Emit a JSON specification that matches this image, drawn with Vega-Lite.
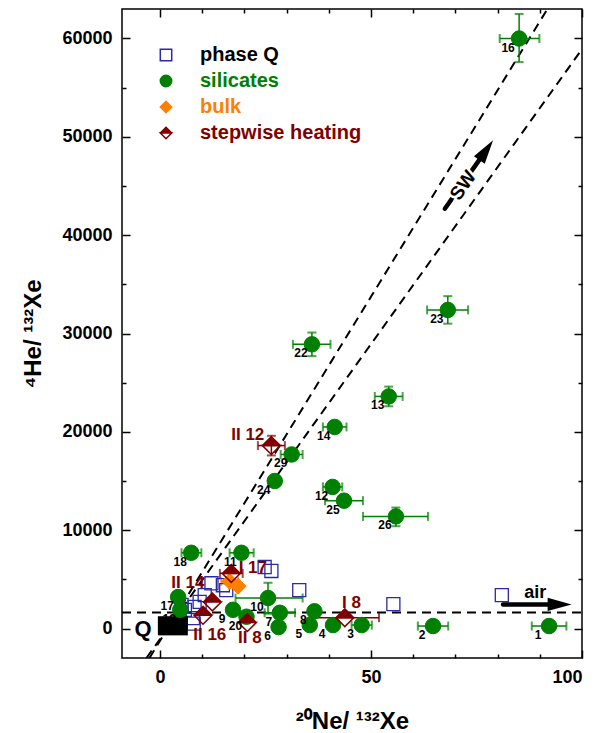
{
  "$schema": "https://vega.github.io/schema/vega-lite/v6.json",
  "width": 460,
  "height": 649,
  "autosize": {"type": "none"},
  "padding": {"left": 122, "top": 9, "right": 24, "bottom": 75},
  "background": "white",
  "config": {
    "view": {"stroke": "black", "strokeWidth": 1.5},
    "font": "Liberation Sans",
    "axis": {
      "grid": false, "domain": false,
      "labelFont": "Liberation Sans", "labelFontWeight": "bold", "labelFontSize": 18, "labelColor": "black",
      "tickColor": "black", "tickWidth": 1.5,
      "titleFont": "Liberation Sans", "titleFontWeight": "bold", "titleFontSize": 24, "titleColor": "black"
    },
    "legend": {
      "orient": "none", "legendX": 34, "legendY": 36, "padding": 0, "title": null,
      "labelFont": "Liberation Sans", "labelFontWeight": "bold", "labelFontSize": 20, "labelLimit": 400,
      "symbolSize": 130, "symbolStrokeWidth": 1.5, "symbolOpacity": 1, "labelOffset": 24, "rowPadding": 6
    },
    "text": {"font": "Liberation Sans", "fontWeight": "bold"}
  },
  "datasets": {
    "pts": [
      {"g": "silicates", "n": "16", "x": 85.1, "y": 60000, "xlo": 80.5, "xhi": 89.9, "ylo": 57600, "yhi": 62500},
      {"g": "silicates", "n": "23", "x": 68.2, "y": 32400, "xlo": 63.3, "xhi": 73.0, "ylo": 31000, "yhi": 33800},
      {"g": "silicates", "n": "22", "x": 36.0, "y": 28900, "xlo": 31.5, "xhi": 40.4, "ylo": 27700, "yhi": 30100},
      {"g": "silicates", "n": "13", "x": 54.2, "y": 23600, "xlo": 50.9, "xhi": 57.5, "ylo": 22600, "yhi": 24600},
      {"g": "silicates", "n": "14", "x": 41.4, "y": 20500, "xlo": 38.6, "xhi": 44.2},
      {"g": "silicates", "n": "29", "x": 31.2, "y": 17700, "xlo": 28.6, "xhi": 33.8},
      {"g": "silicates", "n": "24", "x": 27.2, "y": 15000},
      {"g": "silicates", "n": "12", "x": 40.9, "y": 14400, "xlo": 38.6, "xhi": 43.2},
      {"g": "silicates", "n": "25", "x": 43.6, "y": 13000, "xlo": 39.1, "xhi": 48.1},
      {"g": "silicates", "n": "26", "x": 55.9, "y": 11400, "xlo": 48.1, "xhi": 63.5, "ylo": 10400, "yhi": 12300},
      {"g": "silicates", "n": "18", "x": 7.4, "y": 7700, "xlo": 5.1, "xhi": 9.8},
      {"g": "silicates", "n": "11", "x": 19.3, "y": 7700, "xlo": 16.5, "xhi": 22.2},
      {"g": "silicates", "n": "10", "x": 25.6, "y": 3100, "xlo": 17.9, "xhi": 33.8, "ylo": 1500, "yhi": 4650},
      {"g": "silicates", "n": "17", "x": 4.3, "y": 3200},
      {"g": "silicates", "n": "19", "x": 4.8, "y": 1900},
      {"g": "silicates", "n": "9", "x": 17.3, "y": 1900},
      {"g": "silicates", "n": "20", "x": 20.5, "y": 1200},
      {"g": "silicates", "n": "7", "x": 28.4, "y": 1600, "xlo": 24.8, "xhi": 32.0},
      {"g": "silicates", "n": "6", "x": 28.1, "y": 150},
      {"g": "silicates", "n": "5", "x": 35.5, "y": 350},
      {"g": "silicates", "n": "8", "x": 36.6, "y": 1750},
      {"g": "silicates", "n": "4", "x": 41.0, "y": 350},
      {"g": "silicates", "n": "3", "x": 47.8, "y": 350, "xlo": 45.4, "xhi": 50.2},
      {"g": "silicates", "n": "2", "x": 64.7, "y": 250, "xlo": 61.1, "xhi": 68.3},
      {"g": "silicates", "n": "1", "x": 92.2, "y": 250, "xlo": 88.1, "xhi": 96.3},
      {"g": "phase Q", "x": 81.0, "y": 3400},
      {"g": "phase Q", "x": 55.3, "y": 2480},
      {"g": "phase Q", "x": 33.0, "y": 3900},
      {"g": "phase Q", "x": 24.8, "y": 6250},
      {"g": "phase Q", "x": 26.4, "y": 5850},
      {"g": "phase Q", "x": 12.2, "y": 4600},
      {"g": "phase Q", "x": 10.6, "y": 3400},
      {"g": "phase Q", "x": 9.4, "y": 2700},
      {"g": "phase Q", "x": 8.2, "y": 2200},
      {"g": "phase Q", "x": 7.8, "y": 1050},
      {"g": "phase Q", "x": 5.9, "y": 1900},
      {"g": "phase Q", "x": 14.9, "y": 4400},
      {"g": "phase Q", "x": 15.7, "y": 3900},
      {"g": "phase Q", "x": 5.1, "y": 2400},
      {"g": "phase Q", "x": 8.0, "y": 500},
      {"g": "bulk", "x": 16.5, "y": 4800, "xlo": 14.5, "xhi": 18.5},
      {"g": "bulk", "x": 18.5, "y": 4300},
      {"g": "stepwise heating", "x": 26.4, "y": 18600, "xlo": 23.2, "xhi": 29.6, "ylo": 17600, "yhi": 19600},
      {"g": "stepwise heating", "x": 16.9, "y": 5600, "xlo": 14.2, "xhi": 19.6},
      {"g": "stepwise heating", "x": 12.4, "y": 2700},
      {"g": "stepwise heating", "x": 10.2, "y": 1350},
      {"g": "stepwise heating", "x": 20.7, "y": 600},
      {"g": "stepwise heating", "x": 43.8, "y": 1100, "xlo": 35.9, "xhi": 51.9}
    ],
    "guides": [
      {"id": "air", "x": -9, "y": 1630},
      {"id": "air", "x": 100, "y": 1630},
      {"id": "sw1", "x": -2.49, "y": -3000},
      {"id": "sw1", "x": 91.8, "y": 63000},
      {"id": "sw2", "x": -3.2, "y": -3000},
      {"id": "sw2", "x": 100, "y": 58920}
    ],
    "qbox": [{"x": -0.5, "x2": 6.6, "y": -700, "y2": 1250}],
    "arrows": [
      {"a": "air", "x": 81.3, "y": 2450, "x2": 94.7, "y2": 2450},
      {"a": "sw", "x": 67.5, "y": 42690, "x2": 77.3, "y2": 48650}
    ],
    "ann": [
      {"k": "step", "t": "II 12", "x": 20.8, "y": 19630},
      {"k": "step", "t": "I 17", "x": 22.0, "y": 6150},
      {"k": "step", "t": "II 14", "x": 6.6, "y": 4620},
      {"k": "step", "t": "II 16", "x": 11.8, "y": -680},
      {"k": "step", "t": "II 8", "x": 21.3, "y": -990},
      {"k": "step", "t": "I 8", "x": 45.4, "y": 2610},
      {"k": "air", "t": "air", "x": 88.9, "y": 3600},
      {"k": "q", "t": "Q", "x": -4.0, "y": 0},
      {"k": "sw", "t": "SW", "x": 71.8, "y": 45060}
    ]
  },
  "resolve": {"axis": {"x": "independent", "y": "independent"}},
  "layer": [
    {
      "data": {"name": "guides"},
      "mark": {"type": "line", "strokeDash": [9, 6], "strokeWidth": 2, "color": "black", "clip": true},
      "encoding": {
        "x": {"field": "x", "type": "quantitative",
          "scale": {"domain": [-9, 100], "nice": false, "zero": false},
          "axis": {"orient": "bottom", "values": [0, 50, 100], "tickSize": -8, "labelPadding": 18,
            "title": "²⁰Ne/ ¹³²Xe", "titleY": 70, "titleBaseline": "alphabetic"}},
        "y": {"field": "y", "type": "quantitative",
          "scale": {"domain": [-3000, 63000], "nice": false, "zero": false},
          "axis": {"orient": "left", "values": [0, 10000, 20000, 30000, 40000, 50000, 60000], "format": "d",
            "tickSize": -8, "labelPadding": 18,
            "title": "⁴He/ ¹³²Xe", "titleX": -82, "titleBaseline": "alphabetic"}},
        "detail": {"field": "id"}
      }
    },
    {
      "data": {"name": "pts"},
      "transform": [{"filter": "isValid(datum.xlo)"}],
      "mark": {"type": "rule", "strokeWidth": 1.5},
      "encoding": {
        "x": {"field": "xlo", "type": "quantitative",
          "axis": {"orient": "top", "values": [0, 50, 100], "tickSize": -8, "labels": false, "title": null}},
        "x2": {"field": "xhi"},
        "y": {"field": "y", "type": "quantitative",
          "axis": {"orient": "right", "values": [0, 10000, 20000, 30000, 40000, 50000, 60000], "tickSize": -8, "labels": false, "title": null}},
        "stroke": {"field": "g", "type": "nominal"}
      }
    },
    {
      "data": {"name": "pts"},
      "transform": [{"filter": "isValid(datum.ylo)"}],
      "mark": {"type": "rule", "strokeWidth": 1.5},
      "encoding": {
        "x": {"field": "x", "type": "quantitative", "axis": null},
        "y": {"field": "ylo", "type": "quantitative", "axis": null},
        "y2": {"field": "yhi"},
        "stroke": {"field": "g", "type": "nominal"}
      }
    },
    {
      "data": {"name": "pts"},
      "transform": [{"fold": ["xlo", "xhi"], "as": ["k", "v"]}, {"filter": "isValid(datum.v)"}],
      "mark": {"type": "tick", "orient": "vertical", "size": 9, "thickness": 2},
      "encoding": {
        "x": {"field": "v", "type": "quantitative", "axis": null},
        "y": {"field": "y", "type": "quantitative", "axis": null},
        "fill": {"field": "g", "type": "nominal"}
      }
    },
    {
      "data": {"name": "pts"},
      "transform": [{"fold": ["ylo", "yhi"], "as": ["k", "v"]}, {"filter": "isValid(datum.v)"}],
      "mark": {"type": "tick", "orient": "horizontal", "size": 9, "thickness": 2},
      "encoding": {
        "x": {"field": "x", "type": "quantitative", "axis": null},
        "y": {"field": "v", "type": "quantitative", "axis": null},
        "fill": {"field": "g", "type": "nominal"}
      }
    },
    {
      "data": {"name": "pts"},
      "transform": [{"filter": "datum.g == 'phase Q'"}],
      "mark": {"type": "point", "filled": true, "size": 170, "strokeWidth": 1.3, "opacity": 1},
      "encoding": {
        "x": {"field": "x", "type": "quantitative",
          "axis": {"orient": "bottom", "values": [10, 20, 30, 40, 60, 70, 80, 90], "tickSize": -4, "labels": false, "title": null}},
        "y": {"field": "y", "type": "quantitative",
          "axis": {"orient": "left", "values": [5000, 15000, 25000, 35000, 45000, 55000], "tickSize": -4, "labels": false, "title": null}},
        "fill": {"field": "g", "type": "nominal",
          "scale": {"domain": ["phase Q", "silicates", "bulk", "stepwise heating"], "range": ["transparent", "#008000", "#ff8000", "#800000"]},
          "legend": {"labelColor": {"expr": "datum.label == 'silicates' ? '#008000' : datum.label == 'bulk' ? '#ff8000' : datum.label == 'stepwise heating' ? '#800000' : 'black'"}}},
        "stroke": {"field": "g", "type": "nominal",
          "scale": {"domain": ["phase Q", "silicates", "bulk", "stepwise heating"], "range": ["#2a2aa6", "#008000", "#ff8000", "#800000"]}},
        "shape": {"field": "g", "type": "nominal",
          "scale": {"domain": ["phase Q", "silicates", "bulk", "stepwise heating"], "range": ["square", "circle", "diamond", "M0,-1L1,0L0,1L-1,0Z M-1,0L0,1L1,0Z"]}}
      }
    },
    {
      "data": {"name": "qbox"},
      "mark": {"type": "rect", "color": "black"},
      "encoding": {
        "x": {"field": "x", "type": "quantitative", "axis": null},
        "x2": {"field": "x2"},
        "y": {"field": "y", "type": "quantitative", "axis": null},
        "y2": {"field": "y2"}
      }
    },
    {
      "data": {"name": "pts"},
      "transform": [{"filter": "datum.g == 'silicates'"}],
      "mark": {"type": "point", "filled": true, "size": 240, "strokeWidth": 1, "opacity": 1},
      "encoding": {
        "x": {"field": "x", "type": "quantitative",
          "axis": {"orient": "top", "values": [10, 20, 30, 40, 60, 70, 80, 90], "tickSize": -4, "labels": false, "title": null}},
        "y": {"field": "y", "type": "quantitative",
          "axis": {"orient": "right", "values": [5000, 15000, 25000, 35000, 45000, 55000], "tickSize": -4, "labels": false, "title": null}},
        "fill": {"field": "g", "type": "nominal"},
        "stroke": {"field": "g", "type": "nominal"},
        "shape": {"field": "g", "type": "nominal"}
      }
    },
    {
      "data": {"name": "pts"},
      "transform": [{"filter": "datum.g == 'bulk'"}],
      "mark": {"type": "point", "filled": true, "size": 256, "strokeWidth": 1, "opacity": 1},
      "encoding": {
        "x": {"field": "x", "type": "quantitative", "axis": null},
        "y": {"field": "y", "type": "quantitative", "axis": null},
        "fill": {"field": "g", "type": "nominal"},
        "stroke": {"field": "g", "type": "nominal"},
        "shape": {"field": "g", "type": "nominal"}
      }
    },
    {
      "data": {"name": "pts"},
      "transform": [{"filter": "datum.g == 'stepwise heating'"}],
      "mark": {"type": "point", "filled": true, "size": 320, "strokeWidth": 1.5, "opacity": 1},
      "encoding": {
        "x": {"field": "x", "type": "quantitative", "axis": null},
        "y": {"field": "y", "type": "quantitative", "axis": null},
        "fill": {"field": "g", "type": "nominal"},
        "stroke": {"field": "g", "type": "nominal"},
        "shape": {"field": "g", "type": "nominal"}
      }
    },
    {
      "data": {"name": "pts"},
      "transform": [{"filter": "datum.g == 'silicates'"}],
      "mark": {"type": "text", "fontSize": 12, "fontWeight": "bold", "color": "black", "dx": -11, "dy": 9, "align": "center", "baseline": "middle"},
      "encoding": {
        "x": {"field": "x", "type": "quantitative", "axis": null},
        "y": {"field": "y", "type": "quantitative", "axis": null},
        "text": {"field": "n"}
      }
    },
    {
      "data": {"name": "ann"},
      "transform": [{"filter": "datum.k == 'step'"}],
      "mark": {"type": "text", "fontSize": 17, "fontWeight": "bold", "color": "#800000", "align": "center", "baseline": "middle"},
      "encoding": {
        "x": {"field": "x", "type": "quantitative", "axis": null},
        "y": {"field": "y", "type": "quantitative", "axis": null},
        "text": {"field": "t"}
      }
    },
    {
      "data": {"name": "ann"},
      "transform": [{"filter": "datum.k == 'air'"}],
      "mark": {"type": "text", "fontSize": 18, "fontWeight": "bold", "color": "black", "align": "center", "baseline": "middle"},
      "encoding": {
        "x": {"field": "x", "type": "quantitative", "axis": null},
        "y": {"field": "y", "type": "quantitative", "axis": null},
        "text": {"field": "t"}
      }
    },
    {
      "data": {"name": "ann"},
      "transform": [{"filter": "datum.k == 'q'"}],
      "mark": {"type": "text", "fontSize": 22, "fontWeight": "bold", "color": "black", "align": "center", "baseline": "middle"},
      "encoding": {
        "x": {"field": "x", "type": "quantitative", "axis": null},
        "y": {"field": "y", "type": "quantitative", "axis": null},
        "text": {"field": "t"}
      }
    },
    {
      "data": {"name": "arrows"},
      "mark": {"type": "rule", "strokeWidth": 4.5, "color": "black", "strokeCap": "round"},
      "encoding": {
        "x": {"field": "x", "type": "quantitative", "axis": null},
        "y": {"field": "y", "type": "quantitative", "axis": null},
        "x2": {"field": "x2"},
        "y2": {"field": "y2"}
      }
    },
    {
      "data": {"name": "arrows"},
      "transform": [{"filter": "datum.a == 'air'"}],
      "mark": {"type": "point", "shape": "M1,0L-1,-0.55L-1,0.55Z", "size": 576, "filled": true, "color": "black", "opacity": 1},
      "encoding": {
        "x": {"field": "x2", "type": "quantitative", "axis": null},
        "y": {"field": "y2", "type": "quantitative", "axis": null}
      }
    },
    {
      "data": {"name": "arrows"},
      "transform": [{"filter": "datum.a == 'sw'"}],
      "mark": {"type": "point", "shape": "M1,0L-1,-0.55L-1,0.55Z", "size": 576, "filled": true, "color": "black", "opacity": 1, "angle": -55},
      "encoding": {
        "x": {"field": "x2", "type": "quantitative", "axis": null},
        "y": {"field": "y2", "type": "quantitative", "axis": null}
      }
    },
    {
      "data": {"name": "ann"},
      "transform": [{"filter": "datum.k == 'sw'"}],
      "mark": {"type": "text", "fontSize": 19, "fontWeight": "bold", "color": "white", "stroke": "white", "strokeWidth": 5, "align": "center", "baseline": "middle", "angle": -55},
      "encoding": {
        "x": {"field": "x", "type": "quantitative", "axis": null},
        "y": {"field": "y", "type": "quantitative", "axis": null},
        "text": {"field": "t"}
      }
    },
    {
      "data": {"name": "ann"},
      "transform": [{"filter": "datum.k == 'sw'"}],
      "mark": {"type": "text", "fontSize": 19, "fontWeight": "bold", "color": "black", "align": "center", "baseline": "middle", "angle": -55},
      "encoding": {
        "x": {"field": "x", "type": "quantitative", "axis": null},
        "y": {"field": "y", "type": "quantitative", "axis": null},
        "text": {"field": "t"}
      }
    }
  ]
}
